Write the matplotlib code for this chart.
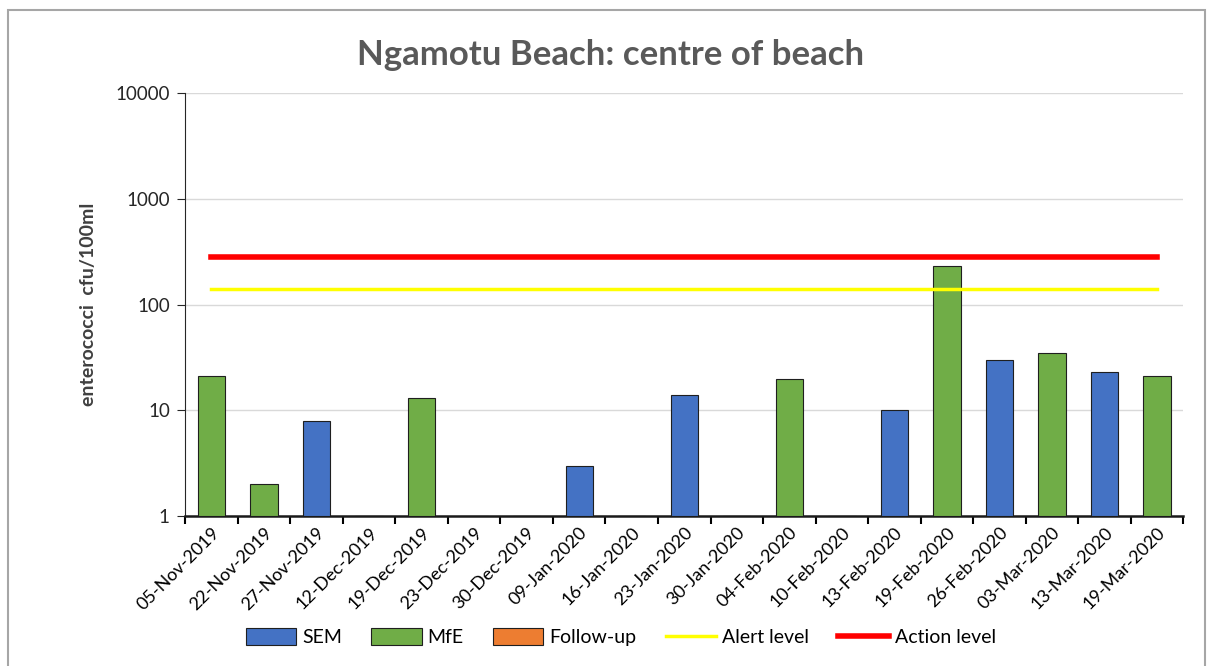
import numpy as np
import matplotlib.pyplot as plt
from matplotlib.patches import Rectangle

# sample dates and results (enterococci cfu/100ml)
dates = ['05-Nov-2019', '22-Nov-2019', '27-Nov-2019', '12-Dec-2019', '19-Dec-2019',
         '23-Dec-2019', '30-Dec-2019', '09-Jan-2020', '16-Jan-2020', '23-Jan-2020',
         '30-Jan-2020', '04-Feb-2020', '10-Feb-2020', '13-Feb-2020', '19-Feb-2020',
         '26-Feb-2020', '03-Mar-2020', '13-Mar-2020', '19-Mar-2020']
sem = [np.nan, np.nan, 8, 1, np.nan, 1, 1, 3, 1, 14, 1, np.nan, 1, 10, np.nan, 30, np.nan, 23, np.nan]
mfe = [21, 2, np.nan, np.nan, 13, np.nan, np.nan, np.nan, np.nan, np.nan, np.nan, 20, np.nan,
       np.nan, 230, np.nan, 35, np.nan, 21]
follow_up = [np.nan] * len(dates)
alert_level = 140
action_level = 280

plt.rcParams['font.family'] = ['Lato', 'DejaVu Sans']

fig = plt.figure(figsize=(12.1, 6.66), dpi=100)
ax = fig.add_axes([0.153, 0.225, 0.825, 0.635])

x = np.arange(len(dates))
w = 0.52
b1 = ax.bar(x, np.array(sem) - 1, w, bottom=1, color='#4472C4', edgecolor='#1f1f1f', linewidth=0.8, label='SEM', zorder=3)
b2 = ax.bar(x, np.array(mfe) - 1, w, bottom=1, color='#70AD47', edgecolor='#1f1f1f', linewidth=0.8, label='MfE', zorder=3)
b3 = ax.bar(x, np.array(follow_up), w, bottom=1, color='#ED7D31', edgecolor='#1f1f1f', linewidth=0.8, label='Follow-up', zorder=3)
l1, = ax.plot(x, [alert_level] * len(x), color='#FFFF00', linewidth=2.5, label='Alert level', zorder=4)
l2, = ax.plot(x, [action_level] * len(x), color='#FF0000', linewidth=4, label='Action level', zorder=4)

ax.set_yscale('log')
ax.set_ylim(1, 10000)
ax.set_xlim(-0.5, len(dates) - 0.5)
ax.set_yticks([1, 10, 100, 1000, 10000])
ax.set_yticklabels(['1', '10', '100', '1000', '10000'])
ax.minorticks_off()
ax.yaxis.grid(True, color='#d9d9d9', linewidth=1, zorder=0)

ax.set_xticks(x)
ax.set_xticklabels(dates, rotation=45, ha='right', rotation_mode='anchor', fontsize=13)
ax.tick_params(axis='x', length=0, pad=6)
ax.set_xticks(np.arange(len(dates) + 1) - 0.5, minor=True)
ax.tick_params(axis='x', which='minor', length=6, width=1.5, direction='out')
ax.tick_params(axis='y', labelsize=13.5, length=6, pad=5, colors='#262626')

for s in ['top', 'right']:
    ax.spines[s].set_visible(False)
ax.spines['left'].set_color('#262626')
ax.spines['bottom'].set_color('#1a1a1a')
ax.spines['bottom'].set_linewidth(1.8)

ax.set_ylabel('enterococci  cfu/100ml', fontsize=14, fontweight='bold', color='#404040', labelpad=13)
fig.text(0.505, 0.917, 'Ngamotu Beach: centre of beach', ha='center', va='center',
         fontsize=25, fontweight='bold', color='#595959')

fig.legend([b1, b2, b3, l1, l2], ['SEM', 'MfE', 'Follow-up', 'Alert level', 'Action level'],
           loc='center', bbox_to_anchor=(0.513, 0.043), ncol=5, frameon=False, fontsize=14,
           handlelength=2.6, handleheight=0.9, columnspacing=1.5, handletextpad=0.3)

fig.patches.append(Rectangle((0.007, -0.01), 0.989, 0.995, transform=fig.transFigure,
                             fill=False, edgecolor='#a6a6a6', linewidth=1.5))

fig.savefig('out.png', dpi=100)
